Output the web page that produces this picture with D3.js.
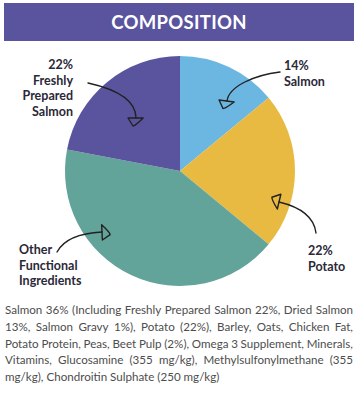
<!DOCTYPE html>
<html><head><meta charset="utf-8">
<script src="https://cdn.jsdelivr.net/npm/d3@7"></script>
<style>html,body{margin:0;padding:0;background:#fff;}svg{display:block;}</style>
</head><body>
<svg id="c" width="359" height="402"></svg>
<script>
const title = "COMPOSITION";
const categories = ["Salmon", "Potato", "Other Functional Ingredients", "Freshly Prepared Salmon"];
const values = [14, 22, 42, 22];
const labelLines = [["14%", "Salmon"], ["22%", "Potato"], ["Other", "Functional", "Ingredients"], ["22%", "Freshly", "Prepared", "Salmon"]];
const colors = ["#6cb7e1", "#e9ba42", "#62a39a", "#5a549e"];
const paragraphLines = [
  "Salmon 36% (Including Freshly Prepared Salmon 22%, Dried Salmon",
  "13%, Salmon Gravy 1%), Potato (22%), Barley, Oats, Chicken Fat,",
  "Potato Protein, Peas, Beet Pulp (2%), Omega 3 Supplement, Minerals,",
  "Vitamins, Glucosamine (355 mg/kg), Methylsulfonylmethane (355",
  "mg/kg), Chondroitin Sulphate (250 mg/kg)"
];

const svg = d3.select("#c");
const font = "Lato, 'Open Sans', sans-serif";

// header
svg.append("rect").attr("x", 4).attr("y", 3).attr("width", 350).attr("height", 38).attr("fill", "#5a549e");
svg.append("text").attr("x", 179).attr("y", 28.5).attr("text-anchor", "middle")
  .attr("fill", "#fff").attr("font-family", font).attr("font-weight", 700).attr("font-size", 18.5)
  .attr("letter-spacing", 0.3).text(title);

// pie
const cx = 180, cy = 171, R = 115;
const pie = d3.pie().sort(null).value(d => d)(values);
const arc = d3.arc().innerRadius(0).outerRadius(R);
const g = svg.append("g").attr("transform", `translate(${cx},${cy})`);
g.selectAll("path").data(pie).enter().append("path")
  .attr("d", arc).attr("fill", (d, i) => colors[i]);

// labels (layout)
const labelLayout = [
  {x: 284, y: 70, anchor: "start"},
  {x: 308, y: 255, anchor: "start"},
  {x: 19, y: 254, anchor: "start"},
  {x: 73, y: 69, anchor: "end"}
];
const lh = 15.5;
labelLines.forEach((lines, i) => {
  const L = labelLayout[i];
  const t = svg.append("text").attr("font-family", font).attr("font-weight", 700)
    .attr("font-size", 12.5).attr("fill", "#2b2838").attr("text-anchor", L.anchor);
  lines.forEach((s, j) => t.append("tspan").attr("x", L.x).attr("y", L.y + j * lh).text(s));
});

// hand-drawn arrows (annotation layout)
const arrows = [
  [[280, 72], [255, 75], [229, 86], [227, 101]],
  [[316, 233], [314, 216], [300, 207], [279, 202]],
  [[57, 252], [64, 239], [82, 233], [102, 232]],
  [[88, 83], [115, 89], [136, 100], [136, 118]]
];
arrows.forEach(p => {
  const path = d3.path();
  path.moveTo(...p[0]);
  path.bezierCurveTo(...p[1], ...p[2], ...p[3]);
  svg.append("path").attr("d", path.toString()).attr("fill", "none")
    .attr("stroke", "#222").attr("stroke-width", 1.4).attr("stroke-linecap", "round");
  // arrow head: outlined triangle
  const [ex, ey] = p[3];
  let dx = ex - p[2][0], dy = ey - p[2][1];
  const len = Math.hypot(dx, dy); dx /= len; dy /= len;
  const nx = -dy, ny = dx;
  const w = 8, l = 8;
  const a = [ex + nx * w, ey + ny * w];
  const b = [ex - nx * w * 0.9, ey - ny * w * 0.9];
  const c = [ex + dx * l + nx * 3, ey + dy * l + ny * 3];
  const hp = d3.path();
  hp.moveTo(...a); hp.lineTo(...b); hp.quadraticCurveTo(c[0] - nx * 2, c[1] - ny * 2, ...c); hp.closePath();
  svg.append("path").attr("d", hp.toString()).attr("fill", "none")
    .attr("stroke", "#222").attr("stroke-width", 1.4).attr("stroke-linejoin", "round");
});

// paragraph, justified
const px0 = 5, px1 = 353, py0 = 314, plh = 16.8;
paragraphLines.forEach((line, i) => {
  const y = py0 + i * plh;
  const t = svg.append("text").attr("font-family", font).attr("font-size", 11.6).attr("fill", "#4d4d4d");
  const words = line.split(" ");
  if (i === paragraphLines.length - 1) {
    t.attr("x", px0).attr("y", y).text(line);
    return;
  }
  const spans = words.map(w => t.append("tspan").attr("y", y).text(w));
  const widths = spans.map(s => s.node().getComputedTextLength());
  const total = d3.sum(widths);
  const gap = (px1 - px0 - total) / (words.length - 1);
  let x = px0;
  spans.forEach((s, k) => { s.attr("x", x); x += widths[k] + gap; });
});
</script>
</body></html>
